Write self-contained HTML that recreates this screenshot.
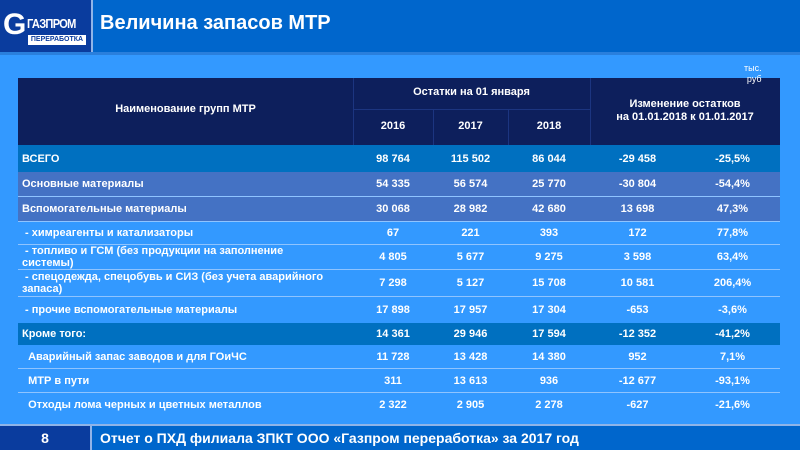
<!DOCTYPE html>
<html><head><meta charset="utf-8"><style>
*{margin:0;padding:0;box-sizing:border-box}
body{width:800px;height:450px;overflow:hidden;background:#3399ff;font-family:"Liberation Sans",Arial,sans-serif;font-weight:bold;color:#fff;position:relative}
.a{position:absolute}
.r{position:absolute;left:18px;width:762px;font-size:11px}
.c{position:absolute;top:0;height:100%;display:flex;align-items:center;justify-content:center;text-align:center}
.n{left:4px;width:310px;justify-content:flex-start;text-align:left;line-height:12px}
.sep{border-bottom:1px solid #8fc4ff}
</style></head><body>
<div class="a" style="left:0;top:0;width:800px;height:52px;background:#0066cc"></div>
<div class="a" style="left:0;top:52px;width:800px;height:3px;background:#2a7fdc"></div>
<div class="a" style="left:0;top:0;width:93px;height:52px;background:#0a3c9e;border-right:2px solid #8fb4e8"></div>
<div class="a" style="left:3px;top:10px;font-size:30px;line-height:30px;font-weight:bold;color:#fff">G</div>
<div class="a" style="left:27px;top:16px;font-size:13px;color:#fff;letter-spacing:-0.8px;transform:scaleX(0.85);transform-origin:left">ГАЗПРОМ</div>
<div class="a" style="left:28px;top:35px;width:58px;height:10px;background:#fff;color:#0a3c9e;font-size:7px;line-height:10px;text-align:center">ПЕРЕРАБОТКА</div>
<div class="a" style="left:100px;top:12px;font-size:20px">Величина запасов МТР</div>

<div class="a" style="left:18px;top:78px;width:762px;height:67px;background:#0d1f5c"></div>
<div class="a" style="left:353px;top:78px;width:1px;height:67px;background:#1c3580"></div>
<div class="a" style="left:590px;top:78px;width:1px;height:67px;background:#1c3580"></div>
<div class="a" style="left:433px;top:110px;width:1px;height:35px;background:#1c3580"></div>
<div class="a" style="left:508px;top:110px;width:1px;height:35px;background:#1c3580"></div>
<div class="a" style="left:353px;top:109px;width:237px;height:1px;background:#1c3580"></div>
<div class="a" style="left:18px;top:103px;width:335px;text-align:center;font-size:11px">Наименование групп МТР</div>
<div class="a" style="left:353px;top:86px;width:237px;text-align:center;font-size:11px">Остатки на 01 января</div>
<div class="a" style="left:353px;top:120px;width:80px;text-align:center;font-size:11px">2016</div>
<div class="a" style="left:433px;top:120px;width:75px;text-align:center;font-size:11px">2017</div>
<div class="a" style="left:508px;top:120px;width:82px;text-align:center;font-size:11px">2018</div>
<div class="a" style="left:590px;top:98px;width:190px;text-align:center;font-size:11px;line-height:13px">Изменение остатков<br>на 01.01.2018 к 01.01.2017</div>
<div class="a" style="left:744px;top:63px;font-size:9px;font-weight:normal;line-height:11px;text-align:right">тыс.<br>руб</div>

<div class="r" style="top:145px;height:27px;background:#0070c0"><div class="c n">ВСЕГО</div><div class="c" style="left:335px;width:80px">98 764</div><div class="c" style="left:415px;width:75px">115 502</div><div class="c" style="left:490px;width:82px">86 044</div><div class="c" style="left:572px;width:95px">-29 458</div><div class="c" style="left:667px;width:95px">-25,5%</div></div>
<div class="r sep" style="top:172px;height:25px;background:#4472c4"><div class="c n">Основные материалы</div><div class="c" style="left:335px;width:80px">54 335</div><div class="c" style="left:415px;width:75px">56 574</div><div class="c" style="left:490px;width:82px">25 770</div><div class="c" style="left:572px;width:95px">-30 804</div><div class="c" style="left:667px;width:95px">-54,4%</div></div>
<div class="r sep" style="top:197px;height:25px;background:#4472c4"><div class="c n">Вспомогательные материалы</div><div class="c" style="left:335px;width:80px">30 068</div><div class="c" style="left:415px;width:75px">28 982</div><div class="c" style="left:490px;width:82px">42 680</div><div class="c" style="left:572px;width:95px">13 698</div><div class="c" style="left:667px;width:95px">47,3%</div></div>
<div class="r sep" style="top:222px;height:23px"><div class="c n">&nbsp;- химреагенты и катализаторы</div><div class="c" style="left:335px;width:80px">67</div><div class="c" style="left:415px;width:75px">221</div><div class="c" style="left:490px;width:82px">393</div><div class="c" style="left:572px;width:95px">172</div><div class="c" style="left:667px;width:95px">77,8%</div></div>
<div class="r sep" style="top:245px;height:25px"><div class="c n">&nbsp;- топливо и ГСМ (без продукции на заполнение системы)</div><div class="c" style="left:335px;width:80px">4 805</div><div class="c" style="left:415px;width:75px">5 677</div><div class="c" style="left:490px;width:82px">9 275</div><div class="c" style="left:572px;width:95px">3 598</div><div class="c" style="left:667px;width:95px">63,4%</div></div>
<div class="r sep" style="top:270px;height:27px"><div class="c n">&nbsp;- спецодежда, спецобувь и СИЗ (без учета аварийного запаса)</div><div class="c" style="left:335px;width:80px">7 298</div><div class="c" style="left:415px;width:75px">5 127</div><div class="c" style="left:490px;width:82px">15 708</div><div class="c" style="left:572px;width:95px">10 581</div><div class="c" style="left:667px;width:95px">206,4%</div></div>
<div class="r" style="top:297px;height:26px"><div class="c n">&nbsp;- прочие вспомогательные материалы</div><div class="c" style="left:335px;width:80px">17 898</div><div class="c" style="left:415px;width:75px">17 957</div><div class="c" style="left:490px;width:82px">17 304</div><div class="c" style="left:572px;width:95px">-653</div><div class="c" style="left:667px;width:95px">-3,6%</div></div>
<div class="r" style="top:323px;height:22px;background:#0070c0"><div class="c n">Кроме того:</div><div class="c" style="left:335px;width:80px">14 361</div><div class="c" style="left:415px;width:75px">29 946</div><div class="c" style="left:490px;width:82px">17 594</div><div class="c" style="left:572px;width:95px">-12 352</div><div class="c" style="left:667px;width:95px">-41,2%</div></div>
<div class="r sep" style="top:345px;height:24px"><div class="c n">&nbsp;&nbsp;Аварийный запас заводов и для ГОиЧС</div><div class="c" style="left:335px;width:80px">11 728</div><div class="c" style="left:415px;width:75px">13 428</div><div class="c" style="left:490px;width:82px">14 380</div><div class="c" style="left:572px;width:95px">952</div><div class="c" style="left:667px;width:95px">7,1%</div></div>
<div class="r sep" style="top:369px;height:24px"><div class="c n">&nbsp;&nbsp;МТР в пути</div><div class="c" style="left:335px;width:80px">311</div><div class="c" style="left:415px;width:75px">13 613</div><div class="c" style="left:490px;width:82px">936</div><div class="c" style="left:572px;width:95px">-12 677</div><div class="c" style="left:667px;width:95px">-93,1%</div></div>
<div class="r" style="top:393px;height:24px"><div class="c n">&nbsp;&nbsp;Отходы лома черных и цветных металлов</div><div class="c" style="left:335px;width:80px">2 322</div><div class="c" style="left:415px;width:75px">2 905</div><div class="c" style="left:490px;width:82px">2 278</div><div class="c" style="left:572px;width:95px">-627</div><div class="c" style="left:667px;width:95px">-21,6%</div></div>

<div class="a" style="left:0;top:424px;width:800px;height:26px;background:#0066cc;border-top:2px solid #8fb4e8"></div>
<div class="a" style="left:0;top:426px;width:92px;height:24px;background:#0a3c9e;border-right:2px solid #8fb4e8;text-align:center;font-size:14px;line-height:24px">8</div>
<div class="a" style="left:100px;top:430px;font-size:14px">Отчет о ПХД филиала ЗПКТ ООО «Газпром переработка» за 2017 год</div>
</body></html>
